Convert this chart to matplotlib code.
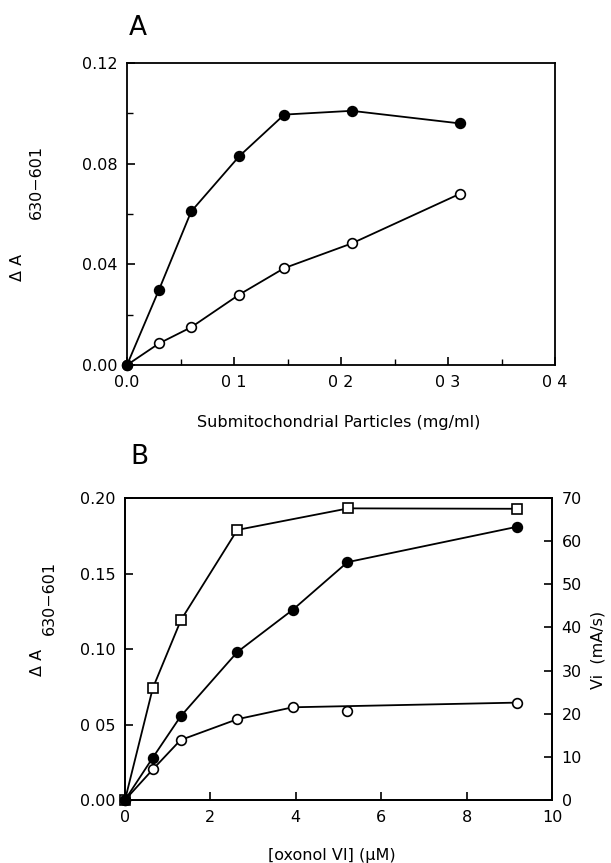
import matplotlib
matplotlib.use("Agg")
import matplotlib.pyplot as plt
from matplotlib.ticker import MultipleLocator

# Panel A data
a_x = [0.0, 0.030, 0.060, 0.105, 0.147, 0.210, 0.311]
a_filled = [0.0, 0.030, 0.061, 0.083, 0.0995, 0.101, 0.096]
a_open = [0.0, 0.0086, 0.015, 0.028, 0.0385, 0.0483, 0.068]
a_xticks = [0.0, 0.1, 0.2, 0.3, 0.4]
a_xlabels = ["0.0", "0 1", "0 2", "0 3", "0 4"]
a_yticks = [0.00, 0.04, 0.08, 0.12]
a_ylabels = ["0.00", "0.04", "0.08", "0.12"]

# Panel B data
b_x = [0.0, 0.65, 1.30, 2.63, 3.93, 5.21, 9.19]
b_filled = [0.0, 0.028, 0.0553, 0.098, 0.126, 0.1575, 0.181]
b_open = [0.0, 0.0202, 0.0397, 0.0535, 0.0614, 0.059, 0.0645]
b_open_line = [True, True, True, True, True, False, True]  # 5.2 point sits off the line
b_sq_x = [0.0, 0.65, 1.31, 2.63, 5.23, 9.19]
b_sq_vi = [0.0, 25.9, 41.7, 62.6, 67.6, 67.5]
b_xticks = [0, 2, 4, 6, 8, 10]
b_yticks = [0.00, 0.05, 0.10, 0.15, 0.20]
b_ylabels = ["0.00", "0 05", "0.10", "0.15", "0.20"]
b_rticks = [0, 10, 20, 30, 40, 50, 60, 70]

plt.rcParams["font.family"] = "DejaVu Sans"
fs = 11.5
W, H = 611, 863
fig = plt.figure(figsize=(W / 100, H / 100), dpi=100)


def box(l, t, r, b):
    return [l / W, 1 - b / H, (r - l) / W, (b - t) / H]


def style(ax):
    for s in ax.spines.values():
        s.set_linewidth(1.3)
    ax.tick_params(direction="in", length=6, width=1.2, labelsize=fs, pad=7)
    ax.tick_params(which="minor", direction="in", length=4, width=1.0)


mk = dict(color="black", lw=1.3, ms=7, mew=1.2)

# ---- Panel A
ax1 = fig.add_axes(box(127, 63, 555, 365))
ax1.plot(a_x, a_open, "o-", mfc="white", **mk)
ax1.plot(a_x, a_filled, "o-", mfc="black", **mk)
ax1.set_xlim(0, 0.4)
ax1.set_ylim(0, 0.12)
ax1.set_xticks(a_xticks)
ax1.set_xticklabels(a_xlabels)
ax1.set_yticks(a_yticks)
ax1.set_yticklabels(a_ylabels)
ax1.xaxis.set_minor_locator(MultipleLocator(0.05))
ax1.yaxis.set_minor_locator(MultipleLocator(0.02))
style(ax1)
for ln in ax1.lines:
    ln.set_clip_on(False)

fig.text(138 / W, 1 - 28 / H, "A", fontsize=19, ha="center", va="center")
fig.text(339 / W, 1 - 422 / H, "Submitochondrial Particles (mg/ml)", fontsize=fs,
         ha="center", va="center")
fig.text(17 / W, 1 - 267 / H, "Δ A", fontsize=fs, rotation=90, ha="center", va="center")
fig.text(36 / W, 1 - 182 / H, "630−601", fontsize=fs, rotation=90, ha="center", va="center")

# ---- Panel B
ax2 = fig.add_axes(box(125, 498, 552, 800))
ax3 = ax2.twinx()
ax2.set_zorder(ax3.get_zorder() + 1)
ax2.patch.set_visible(False)

ax3.plot(b_sq_x, b_sq_vi, "s-", mfc="white", color="black", lw=1.3, ms=6.5, mew=1.2)
ax3.set_ylim(0, 70)
ax3.set_yticks(b_rticks)

ax2.plot([x for x, k in zip(b_x, b_open_line) if k],
         [y for y, k in zip(b_open, b_open_line) if k], "-", color="black", lw=1.3)
ax2.plot(b_x, b_open, "o", mfc="white", color="black", ms=7, mew=1.2)
ax2.plot(b_x, b_filled, "o-", mfc="black", **mk)
ax2.set_xlim(0, 10)
ax2.set_ylim(0, 0.20)
ax2.set_xticks(b_xticks)
ax2.set_yticks(b_yticks)
ax2.set_yticklabels(b_ylabels)
style(ax2)
style(ax3)
for a in (ax2, ax3):
    for ln in a.lines:
        ln.set_clip_on(False)

fig.text(139 / W, 1 - 457 / H, "B", fontsize=19, ha="center", va="center")
fig.text(332 / W, 1 - 855 / H, "[oxonol VI] (μM)", fontsize=fs, ha="center", va="center")
fig.text(38 / W, 1 - 662 / H, "Δ A", fontsize=fs, rotation=90, ha="center", va="center")
fig.text(49 / W, 1 - 598 / H, "630−601", fontsize=fs, rotation=90, ha="center", va="center")
fig.text(598 / W, 1 - 650 / H, "Vi  (mA/s)", fontsize=fs, rotation=90, ha="center", va="center")

fig.savefig("out.png", dpi=100)
